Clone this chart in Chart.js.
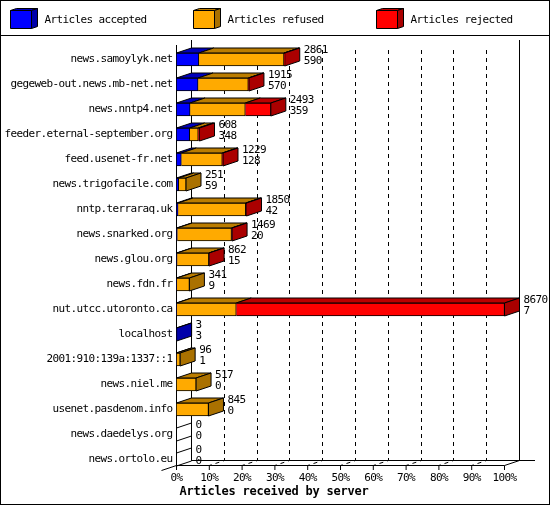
<!DOCTYPE html>
<html>
<head>
<meta charset="utf-8">
<title>Articles received by server</title>
<script src="https://cdn.jsdelivr.net/npm/chart.js@4/dist/chart.umd.js"></script>
<style>
	html, body { margin: 0; padding: 0; background: #fff; }
	canvas { display: block; }
</style>
</head>
<body>
<canvas id="chart" width="550" height="505"></canvas>
<script>
const servers = [
	'news.samoylyk.net', 'gegeweb-out.news.mb-net.net', 'news.nntp4.net',
	'feeder.eternal-september.org', 'feed.usenet-fr.net', 'news.trigofacile.com',
	'nntp.terraraq.uk', 'news.snarked.org', 'news.glou.org', 'news.fdn.fr',
	'nut.utcc.utoronto.ca', 'localhost', '2001:910:139a:1337::1', 'news.niel.me',
	'usenet.pasdenom.info', 'news.daedelys.org', 'news.ortolo.eu'
];
const accepted = [590, 570, 359, 348, 128, 59, 42, 20, 15, 9, 7, 3, 1, 0, 0, 0, 0];
const refused = [2251, 1328, 1460, 226, 1082, 192, 1788, 1434, 839, 332, 1573, 0, 95, 517, 845, 0, 0];
const rejected = [20, 17, 674, 34, 19, 0, 20, 15, 8, 0, 7090, 0, 0, 0, 0, 0, 0];
const seriesNames = ['Articles accepted', 'Articles refused', 'Articles rejected'];
const xTickLabels = ['0%', '10%', '20%', '30%', '40%', '50%', '60%', '70%', '80%', '90%', '100%'];
const xTitle = 'Articles received by server';
const xMax = 8670;

const FRONT = ['#0000ff', '#ffaa00', '#ff0000'];
const TOP = ['#0000bb', '#bb7d00', '#bb0000'];
const SIDE = ['#0000aa', '#aa7100', '#aa0000'];
const DX = 15, DY = 5; // depth of the fake 3d
const MONO = '"DejaVu Sans Mono", "Liberation Mono", monospace';
const TEXT_SPACING = '-0.62px'; // 11px glyphs on the 6px grid of the original

function poly( ctx, pts, fill ) {
	ctx.beginPath();
	pts.forEach( ( p, i ) => i ? ctx.lineTo( p[0], p[1] ) : ctx.moveTo( p[0], p[1] ) );
	ctx.closePath();
	if ( fill ) {
		ctx.fillStyle = fill;
		ctx.fill();
	}
	ctx.stroke();
}

function line( ctx, x1, y1, x2, y2 ) {
	ctx.beginPath();
	ctx.moveTo( x1, y1 );
	ctx.lineTo( x2, y2 );
	ctx.stroke();
}

const frame3d = {
	id: 'frame3d',
	beforeDraw( chart ) {
		chart.ctx.letterSpacing = TEXT_SPACING;
	},
	beforeDatasetsDraw( chart ) {
		const ctx = chart.ctx;
		const x = chart.scales.x;
		const floor = 465.5;
		const left = x.left, right = x.right;

		ctx.save();
		ctx.strokeStyle = '#000';
		ctx.lineWidth = 1;

		// walls and floor
		line( ctx, left, 45, left, floor );
		line( ctx, left + DX, 40, left + DX, floor - DY );
		line( ctx, right + DX, 40, right + DX, floor - DY );
		line( ctx, left - DX, floor + DY, left, floor );
		line( ctx, left, floor, right, floor );
		line( ctx, right, floor, right + DX, floor - DY );
		line( ctx, left + DX, floor - DY, right + 30.5, floor - DY );

		// grid lines run on the back wall, then over the floor
		x.ticks.forEach( ( t, i ) => {
			const px = x.getPixelForValue( t.value );
			line( ctx, px, floor, px, floor + 4.5 );
			if ( i === 0 || i === x.ticks.length - 1 ) {
				return;
			}
			const gx = Math.floor( px + DX ) + 0.5;
			ctx.setLineDash( [4, 4] );
			ctx.beginPath();
			ctx.moveTo( gx, 50 );
			ctx.lineTo( gx, floor - DY );
			ctx.lineTo( px, floor );
			ctx.stroke();
			ctx.setLineDash( [] );
		} );

		// top and side faces of the bars
		servers.forEach( ( name, row ) => {
			let last = -1;
			chart.data.datasets.forEach( ( ds, d ) => {
				const el = chart.getDatasetMeta( d ).data[row];
				if ( ! ds.data[row] ) {
					return;
				}
				last = d;
				const top = el.y - el.height / 2;
				poly( ctx, [[el.base, top], [el.x, top], [el.x + DX, top - DY], [el.base + DX, top - DY]], TOP[d] );
			} );
			const end = chart.getDatasetMeta( last < 0 ? 0 : last ).data[row];
			const y0 = end.y - end.height / 2, y1 = end.y + end.height / 2;
			poly( ctx, [[end.x, y0], [end.x + DX, y0 - DY], [end.x + DX, y1 - DY], [end.x, y1]], last < 0 ? null : SIDE[last] );
		} );
		ctx.restore();
	},
	afterDatasetsDraw( chart ) {
		const ctx = chart.ctx;
		ctx.save();
		ctx.font = '11px ' + MONO;
		ctx.fillStyle = '#000';
		ctx.textBaseline = 'middle';
		ctx.textAlign = 'left';

		// total on top, accepted underneath
		servers.forEach( ( name, row ) => {
			const end = chart.getDatasetMeta( 2 ).data[row];
			const total = accepted[row] + refused[row] + rejected[row];
			ctx.fillText( String( total ), end.x + DX + 4, end.y - 9.5 );
			ctx.fillText( String( accepted[row] ), end.x + DX + 4, end.y + 1.5 );
		} );

		// legend
		ctx.strokeStyle = '#000';
		ctx.lineWidth = 1;
		seriesNames.forEach( ( name, i ) => {
			const bx = 10.5 + i * 183, by = 10.5, bw = 21, bh = 18;
			poly( ctx, [[bx, by], [bx + 6, by - 2], [bx + bw + 6, by - 2], [bx + bw, by]], TOP[i] );
			poly( ctx, [[bx + bw, by], [bx + bw + 6, by - 2], [bx + bw + 6, by + bh - 2], [bx + bw, by + bh]], SIDE[i] );
			poly( ctx, [[bx, by], [bx + bw, by], [bx + bw, by + bh], [bx, by + bh]], FRONT[i] );
			ctx.fillStyle = '#000';
			ctx.fillText( name, bx + 34, 20 );
		} );

		// axis title sits left of the plot centre in the original
		ctx.font = 'bold 12px ' + MONO;
		ctx.letterSpacing = '-0.22px';
		ctx.textAlign = 'center';
		ctx.fillText( xTitle, 274, 491.5 );

		// page frame
		ctx.strokeRect( 0.5, 0.5, 549, 504 );
		line( ctx, 0, 35.5, 550, 35.5 );
		ctx.restore();
	}
};

new Chart( document.getElementById( 'chart' ), {
	type: 'bar',
	data: {
		labels: servers,
		datasets: [accepted, refused, rejected].map( ( values, i ) => ( {
			label: seriesNames[i],
			data: values,
			backgroundColor: FRONT[i],
			borderColor: '#000',
			borderWidth: 1,
			barThickness: 13
		} ) )
	},
	options: {
		indexAxis: 'y',
		responsive: false,
		animation: false,
		events: [],
		layout: { padding: { top: 47, right: 45.5, bottom: 0, left: 0 } },
		plugins: {
			legend: { display: false },
			title: { display: false },
			tooltip: { enabled: false }
		},
		scales: {
			x: {
				stacked: true,
				min: 0,
				max: xMax,
				afterFit: ( scale ) => { scale.height = 33; },
				grid: { display: false, drawTicks: false },
				border: { display: false },
				ticks: {
					stepSize: xMax / 10,
					autoSkip: false,
					maxRotation: 0,
					padding: 0,
					color: '#000',
					font: { family: MONO, size: 11 },
					callback: ( value, index ) => xTickLabels[index]
				}
			},
			y: {
				stacked: true,
				afterFit: ( scale ) => { scale.width = 176.5; },
				grid: { display: false, drawTicks: false },
				border: { display: false },
				ticks: {
					autoSkip: false,
					padding: 4,
					color: '#000',
					font: { family: MONO, size: 11 }
				}
			}
		}
	},
	plugins: [frame3d]
} );
</script>
</body>
</html>
